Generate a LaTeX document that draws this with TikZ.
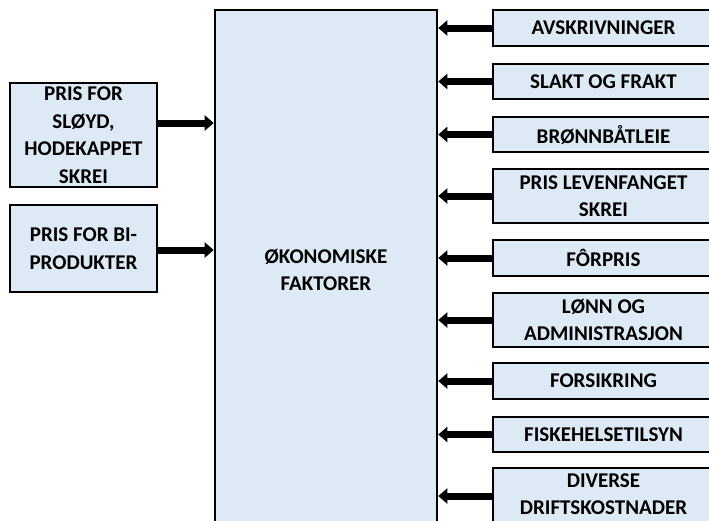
\documentclass[tikz,border=0pt]{standalone}
\usepackage{fontspec}
\setmainfont{Carlito}
\usetikzlibrary{arrows.meta}
\definecolor{boxfill}{HTML}{DDEAF6}
\tikzset{
  factor/.style={draw=black, line width=2.6pt, fill=boxfill, align=center, inner sep=0pt,
    font=\bfseries\fontsize{21}{27.5}\selectfont},
  rbox/.style={factor, minimum width=221pt},
  lbox/.style={factor, minimum width=147pt},
  bigarrow/.style={line width=7pt, -{Triangle[width=15pt,length=9pt]}}
}
\begin{document}
\begin{tikzpicture}[x=1pt,y=-1pt]
\useasboundingbox (0,0) rectangle (709,520);
\begin{scope}
\clip (0,0) rectangle (709,520);
% central box
\node[factor, minimum width=222pt, minimum height=520pt] (c) at (326,270) {ØKONOMISKE\\FAKTORER};
% left boxes
\node[lbox, minimum height=104pt] (l1) at (83.5,135) {PRIS FOR\\SLØYD,\\HODEKAPPET\\SKREI};
\node[lbox, minimum height=87pt] (l2) at (83.5,248.5) {PRIS FOR BI-\\PRODUKTER};
% right boxes
\node[rbox, minimum height=36pt] (r1) at (603.5,28) {AVSKRIVNINGER};
\node[rbox, minimum height=35pt] (r2) at (603.5,81.5) {SLAKT OG FRAKT};
\node[rbox, minimum height=35pt] (r3) at (603.5,134.5) {BRØNNBÅTLEIE};
\node[rbox, minimum height=54pt] (r4) at (603.5,196) {PRIS LEVENFANGET\\SKREI};
\node[rbox, minimum height=36pt] (r5) at (603.5,258) {FÔRPRIS};
\node[rbox, minimum height=54pt] (r6) at (603.5,320) {LØNN OG\\ADMINISTRASJON};
\node[rbox, minimum height=36pt] (r7) at (603.5,381) {FORSIKRING};
\node[rbox, minimum height=35pt] (r8) at (603.5,434.5) {FISKEHELSETILSYN};
\node[rbox, minimum height=56pt] (r9) at (603.5,496) {};
\node[font=\bfseries\fontsize{21}{27}\selectfont, align=center, inner sep=0pt] (r9t) at (603.5,494) {DIVERSE\\DRIFTSKOSTNADER};
% arrows
\draw[bigarrow] ([yshift=12pt]l1.east) -- ([yshift=12pt]l1.east -| c.west);
\draw[bigarrow] ([yshift=-1.5pt]l2.east) -- ([yshift=-1.5pt]l2.east -| c.west);
\foreach \r in {r1,r2,r3,r4,r5,r6,r7,r8,r9}{
  \draw[bigarrow] (\r.west) -- (\r.west -| c.east);
}
\end{scope}
\end{tikzpicture}
\end{document}
